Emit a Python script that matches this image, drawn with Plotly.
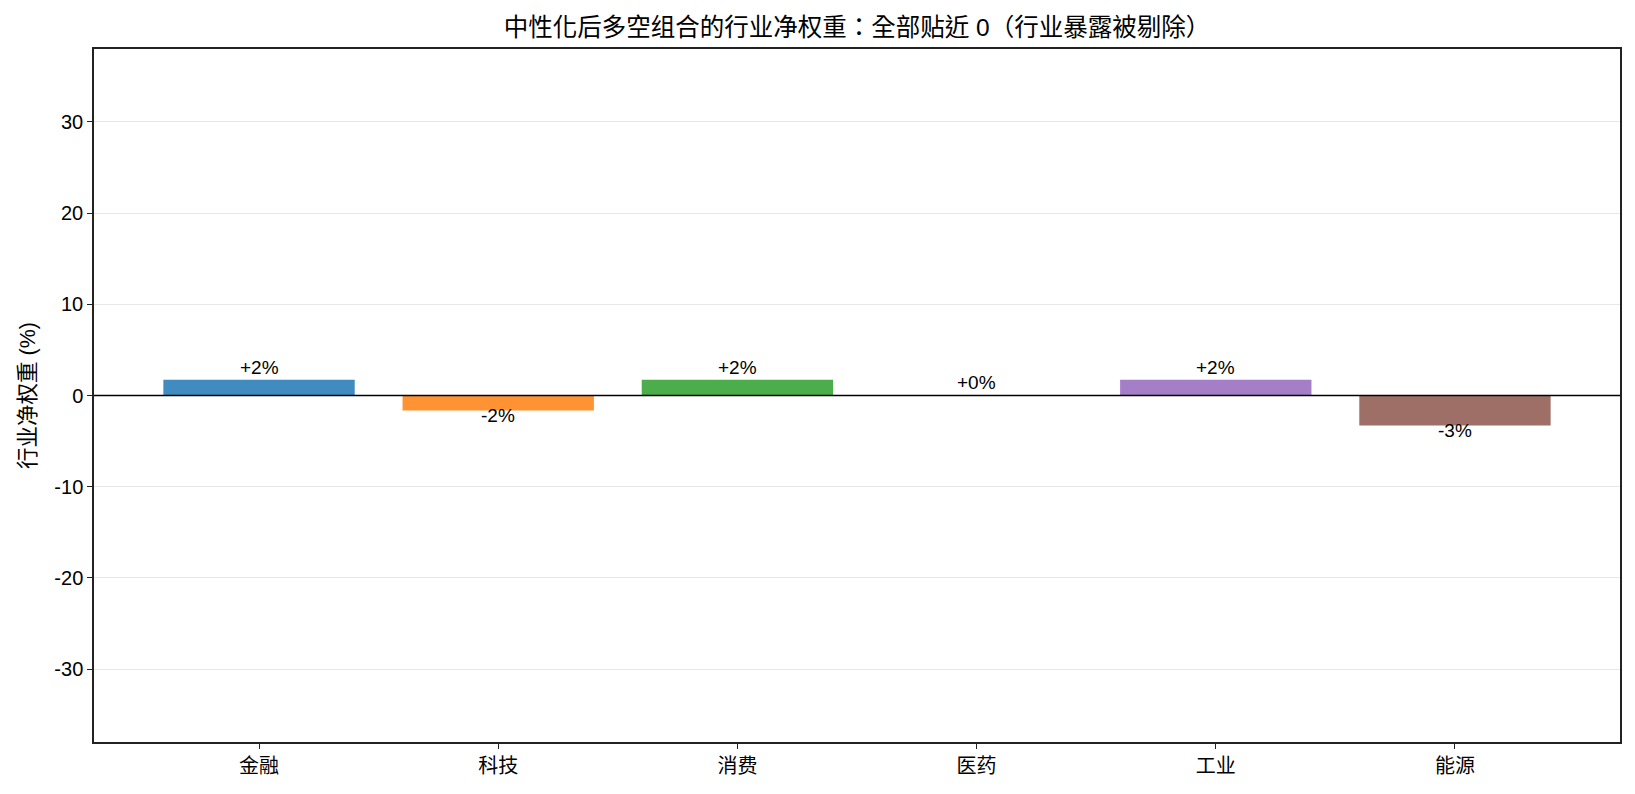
import plotly.graph_objects as go

categories = ["金融", "科技", "消费", "医药", "工业", "能源"]
net_weights = [1.72, -1.65, 1.72, 0.02, 1.72, -3.3]
labels = ["+2%", "-2%", "+2%", "+0%", "+2%", "-3%"]
colors = ["rgba(31,119,180,0.85)", "rgba(255,127,14,0.85)", "rgba(44,160,44,0.85)",
          "rgba(214,39,40,0.85)", "rgba(148,103,189,0.85)", "rgba(140,86,75,0.85)"]
y_ticks = [-30, -20, -10, 0, 10, 20, 30]

FONT = "Liberation Sans, Arial, Noto Sans CJK SC, sans-serif"
TITLE_FONT = "Liberation Sans, Arial, Noto Sans CJK TC, sans-serif"

fig = go.Figure()
fig.add_trace(go.Bar(
    x=list(range(len(categories))), y=net_weights,
    marker=dict(color=colors, line=dict(width=0)),
    width=0.8, showlegend=False, hoverinfo="skip",
))

for i, (v, lab) in enumerate(zip(net_weights, labels)):
    if v >= 0:
        fig.add_annotation(x=i, y=v, text=lab, showarrow=False, yanchor="bottom",
                           yshift=0, font=dict(size=19, color="black", family=FONT))
    else:
        fig.add_annotation(x=i, y=v, text=lab, showarrow=False, yanchor="top",
                           yshift=8, font=dict(size=19, color="black", family=FONT))

fig.add_shape(type="line", xref="paper", x0=0, x1=1, yref="y", y0=0, y1=0,
              line=dict(color="black", width=1.4))

fig.update_layout(
    width=1635, height=794,
    margin=dict(l=94, r=15, t=49, b=52),
    paper_bgcolor="white", plot_bgcolor="white",
    font=dict(family=FONT, color="black", size=20),
    title=dict(text="中性化后多空组合的行业净权重：全部贴近 0（行业暴露被剔除）",
               x=857 / 1635, xanchor="center", y=1 - 27 / 794, yanchor="middle",
               font=dict(size=24.5, family=TITLE_FONT, color="black")),
    xaxis=dict(
        range=[-0.69, 5.69], tickmode="array", tickvals=list(range(len(categories))),
        ticktext=categories, showgrid=False, zeroline=False,
        showline=True, linecolor="#222", linewidth=1.5, mirror=True,
        ticks="outside", ticklen=5, tickcolor="#222", tickwidth=1.3,
        tickfont=dict(size=20, family=FONT),
    ),
    yaxis=dict(
        range=[-38, 38], tickmode="array", tickvals=y_ticks,
        ticktext=[str(t) for t in y_ticks], showgrid=True, gridcolor="#e8e8e8", gridwidth=1,
        zeroline=False, showline=True, linecolor="#222", linewidth=1.5, mirror=True,
        ticks="outside", ticklen=5, tickcolor="#222", tickwidth=1.3,
        tickfont=dict(size=20, family=FONT),
        title=dict(text="行业净权重 (%)", font=dict(size=21.5, family=FONT), standoff=13),
    ),
    bargap=0.2,
)

fig.write_html("out.html")
